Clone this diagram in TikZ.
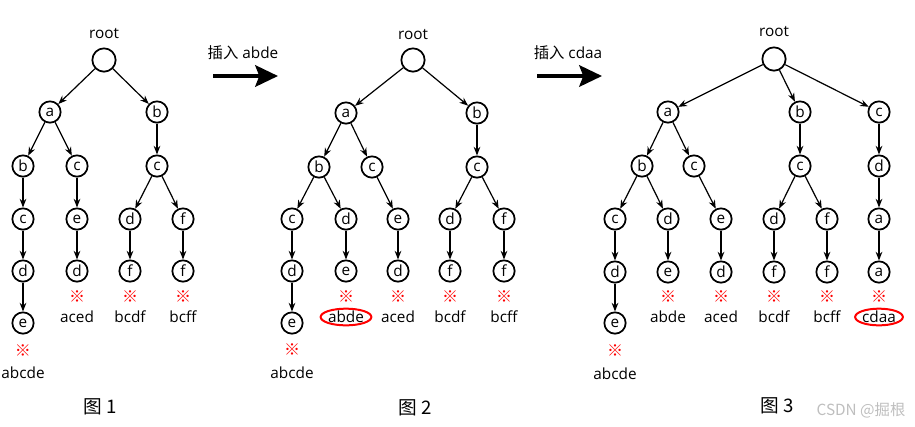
\documentclass[tikz,border=0pt]{standalone}
\usepackage{fontspec}
\setmainfont{Open Sans}
\newfontfamily\cjk{Noto Sans CJK SC}
\usetikzlibrary{arrows.meta,shapes.geometric}

\tikzset{every picture/.style={line width=0.75pt}}
\tikzset{
  trie/.style={draw, circle, line width=1.3pt, minimum size=16pt, inner sep=0pt, font=\fontsize{11.5}{12}\selectfont},
  top/.style={trie, minimum size=17.5pt},
  link/.style={-{Stealth[length=6.5pt,width=5pt]}, line width=0.9pt},
  endmark/.style={text=red, inner sep=0pt, font=\cjk\fontsize{12}{12}\selectfont},
  word/.style={inner sep=0pt, font=\fontsize{11.5}{12}\selectfont},
  newword/.style={word, ellipse, draw=red, line width=1.5pt, inner sep=0pt},
  insert/.style={-{Stealth[length=17pt,width=16pt,inset=3pt]}, line width=3pt},
  caption/.style={inner sep=0pt, font=\cjk\fontsize{14}{14}\selectfont}
}

\begin{document}
\begin{tikzpicture}[x=0.75pt,y=0.75pt,yscale=-1,xscale=1]
\useasboundingbox (0,0) rectangle (915,426);

%Trie 1
\node [top] (t1) at (104,60) {};
\node [trie] (t1a) at (50,112) {a};
\node [trie] (t1b) at (157,112) {b};
\node [trie] (t1ab) at (23,166) {b};
\node [trie] (t1ac) at (77,166) {c};
\node [trie] (t1bc) at (157,166) {c};
\node [trie] (t1abc) at (23,219) {c};
\node [trie] (t1ace) at (77,219) {e};
\node [trie] (t1bcd) at (130,219) {d};
\node [trie] (t1bcf) at (183,219) {f};
\node [trie] (t1abcd) at (23,271) {d};
\node [trie] (t1aced) at (77,271) {d};
\node [trie] (t1bcdf) at (130,271) {f};
\node [trie] (t1bcff) at (183,271) {f};
\node [trie] (t1abcde) at (23,323) {e};

\draw [link] (t1) -- (t1a);
\draw [link] (t1) -- (t1b);
\draw [link] (t1a) -- (t1ab);
\draw [link] (t1a) -- (t1ac);
\draw [link] (t1b) -- (t1bc);
\draw [link] (t1ab) -- (t1abc);
\draw [link] (t1ac) -- (t1ace);
\draw [link] (t1bc) -- (t1bcd);
\draw [link] (t1bc) -- (t1bcf);
\draw [link] (t1abc) -- (t1abcd);
\draw [link] (t1ace) -- (t1aced);
\draw [link] (t1bcd) -- (t1bcdf);
\draw [link] (t1bcf) -- (t1bcff);
\draw [link] (t1abcd) -- (t1abcde);

% Text Node
\node [word] (r1) at (104,34) {root};
\node [endmark] (m1abcde) at (23,351) {※};
\node [word] (w1abcde) at (23,373) {abcde};
\node [endmark] (m1aced) at (77,297) {※};
\node [word] (w1aced) at (77,317) {aced};
\node [endmark] (m1bcdf) at (130,297) {※};
\node [word] (w1bcdf) at (130,317) {bcdf};
\node [endmark] (m1bcff) at (183,297) {※};
\node [word] (w1bcff) at (183,317) {bcff};
\node [caption] (c1) at (100,407) {图 1};

%Insert abde
\coordinate (s1) at (213,76);
\coordinate (e1) at (278,76);
\draw [insert] (s1) -- (e1);
\node [word] (i1) at (243,53) {{\cjk 插入} abde};

%Trie 2
\node [top] (t2) at (413,60) {};
\node [trie] (t2a) at (346,113) {a};
\node [trie] (t2b) at (477,113) {b};
\node [trie] (t2ab) at (319,167) {b};
\node [trie] (t2ac) at (372,167) {c};
\node [trie] (t2bc) at (477,167) {c};
\node [trie] (t2abc) at (292,219) {c};
\node [trie] (t2abd) at (346,219) {d};
\node [trie] (t2ace) at (398,219) {e};
\node [trie] (t2bcd) at (450,219) {d};
\node [trie] (t2bcf) at (504,219) {f};
\node [trie] (t2abcd) at (292,271) {d};
\node [trie] (t2abde) at (346,271) {e};
\node [trie] (t2aced) at (398,271) {d};
\node [trie] (t2bcdf) at (450,271) {f};
\node [trie] (t2bcff) at (504,271) {f};
\node [trie] (t2abcde) at (292,323) {e};

\draw [link] (t2) -- (t2a);
\draw [link] (t2) -- (t2b);
\draw [link] (t2a) -- (t2ab);
\draw [link] (t2a) -- (t2ac);
\draw [link] (t2b) -- (t2bc);
\draw [link] (t2ab) -- (t2abc);
\draw [link] (t2ab) -- (t2abd);
\draw [link] (t2ac) -- (t2ace);
\draw [link] (t2bc) -- (t2bcd);
\draw [link] (t2bc) -- (t2bcf);
\draw [link] (t2abc) -- (t2abcd);
\draw [link] (t2abd) -- (t2abde);
\draw [link] (t2ace) -- (t2aced);
\draw [link] (t2bcd) -- (t2bcdf);
\draw [link] (t2bcf) -- (t2bcff);
\draw [link] (t2abcd) -- (t2abcde);

% Text Node
\node [word] (r2) at (413,35) {root};
\node [endmark] (m2abcde) at (292,350) {※};
\node [word] (w2abcde) at (292,373) {abcde};
\node [endmark] (m2abde) at (346,297) {※};
\node [newword] (w2abde) at (346,317) {abde};
\node [endmark] (m2aced) at (398,297) {※};
\node [word] (w2aced) at (398,317) {aced};
\node [endmark] (m2bcdf) at (450,297) {※};
\node [word] (w2bcdf) at (450,317) {bcdf};
\node [endmark] (m2bcff) at (504,297) {※};
\node [word] (w2bcff) at (504,317) {bcff};
\node [caption] (c2) at (415,408) {图 2};

%Insert cdaa
\coordinate (s2) at (537,76);
\coordinate (e2) at (602,76);
\draw [insert] (s2) -- (e2);
\node [word] (i2) at (568,53) {{\cjk 插入} cdaa};

%Trie 3
\node [top] (t3) at (774,59) {};
\node [trie] (t3a) at (668,112) {a};
\node [trie] (t3b) at (800,112) {b};
\node [trie] (t3c) at (879,112) {c};
\node [trie] (t3ab) at (642,166) {b};
\node [trie] (t3ac) at (694,166) {c};
\node [trie] (t3bc) at (800,166) {c};
\node [trie] (t3cd) at (879,166) {d};
\node [trie] (t3abc) at (615,219) {c};
\node [trie] (t3abd) at (668,219) {d};
\node [trie] (t3ace) at (721,219) {e};
\node [trie] (t3bcd) at (774,219) {d};
\node [trie] (t3bcf) at (827,219) {f};
\node [trie] (t3cda) at (879,219) {a};
\node [trie] (t3abcd) at (615,272) {d};
\node [trie] (t3abde) at (668,272) {e};
\node [trie] (t3aced) at (721,272) {d};
\node [trie] (t3bcdf) at (774,272) {f};
\node [trie] (t3bcff) at (827,272) {f};
\node [trie] (t3cdaa) at (879,272) {a};
\node [trie] (t3abcde) at (615,323) {e};

\draw [link] (t3) -- (t3a);
\draw [link] (t3) -- (t3b);
\draw [link] (t3) -- (t3c);
\draw [link] (t3a) -- (t3ab);
\draw [link] (t3a) -- (t3ac);
\draw [link] (t3b) -- (t3bc);
\draw [link] (t3c) -- (t3cd);
\draw [link] (t3ab) -- (t3abc);
\draw [link] (t3ab) -- (t3abd);
\draw [link] (t3ac) -- (t3ace);
\draw [link] (t3bc) -- (t3bcd);
\draw [link] (t3bc) -- (t3bcf);
\draw [link] (t3cd) -- (t3cda);
\draw [link] (t3abc) -- (t3abcd);
\draw [link] (t3abd) -- (t3abde);
\draw [link] (t3ace) -- (t3aced);
\draw [link] (t3bcd) -- (t3bcdf);
\draw [link] (t3bcf) -- (t3bcff);
\draw [link] (t3cda) -- (t3cdaa);
\draw [link] (t3abcd) -- (t3abcde);

% Text Node
\node [word] (r3) at (774,32) {root};
\node [endmark] (m3abcde) at (615,351) {※};
\node [word] (w3abcde) at (615,374) {abcde};
\node [endmark] (m3abde) at (668,297) {※};
\node [word] (w3abde) at (668,317) {abde};
\node [endmark] (m3aced) at (721,297) {※};
\node [word] (w3aced) at (721,317) {aced};
\node [endmark] (m3bcdf) at (774,297) {※};
\node [word] (w3bcdf) at (774,317) {bcdf};
\node [endmark] (m3bcff) at (827,297) {※};
\node [word] (w3bcff) at (827,317) {bcff};
\node [endmark] (m3cdaa) at (879,297) {※};
\node [newword] (w3cdaa) at (879,317) {cdaa};
\node [caption] (c3) at (777,406) {图 3};
\node [word, font=\cjk\fontsize{11.5}{12}\selectfont, text={rgb,255:red,190;green,190;blue,190}] (wm) at (861,410) {CSDN @掘根};

\end{tikzpicture}
\end{document}
